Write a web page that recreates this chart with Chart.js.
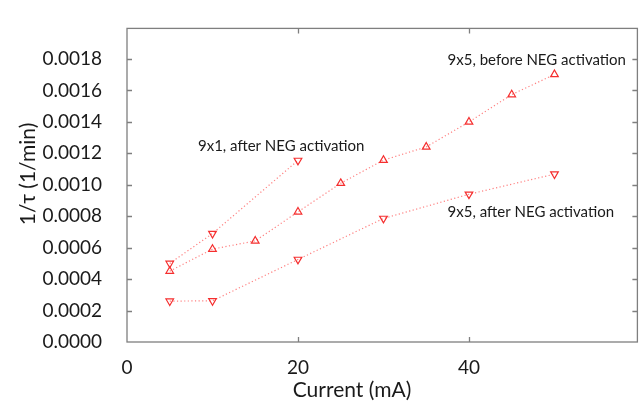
<!DOCTYPE html>
<html>
<head>
<meta charset="utf-8">
<script src="https://cdn.jsdelivr.net/npm/chart.js@4/dist/chart.umd.min.js"></script>
<style>
  html, body { margin: 0; padding: 0; background: #fff; overflow: hidden; }
  #wrap { width: 643px; height: 405px; }
</style>
</head>
<body>
<div id="wrap"><canvas id="chart"></canvas></div>
<script>
// Datos
const current9x1 = [5, 10, 20];
const after9x1 = [0.000500, 0.000690, 0.001155];

const current9x5Before = [5, 10, 15, 20, 25, 30, 35, 40, 45, 50];
const before9x5 = [0.000451, 0.000591, 0.000643, 0.000828, 0.001010, 0.001157, 0.001241, 0.001400, 0.001574, 0.001702];

const current9x5After = [5, 10, 20, 30, 40, 50];
const after9x5 = [0.000260, 0.000262, 0.000525, 0.000786, 0.000940, 0.001068];

const seriesNames = ["9x1, after NEG activation", "9x5, before NEG activation", "9x5, after NEG activation"];

const xTicks = [0, 20, 40];
const yTicks = [0, 0.0002, 0.0004, 0.0006, 0.0008, 0.0010, 0.0012, 0.0014, 0.0016, 0.0018];

const xTitle = "Current (mA)";
const yTitle = "1/\u03c4 (1/min)";

// Etiquetas dentro del gráfico (coordenadas de datos)
const notes = [
  { text: seriesNames[0], x: 8.3, y: 0.001243 },
  { text: seriesNames[1], x: 37.5, y: 0.00179 },
  { text: seriesNames[2], x: 37.5, y: 0.000828 },
];

const FONT = "Lato, 'Open Sans', sans-serif";
const markerRed = "#f52f2f";
const lineRed = "#ff8080";
const frameGray = "#7f7f7f";
const textColor = "#1a1a1a";

const toPoints = (xs, ys) => xs.map((x, i) => ({ x: x, y: ys[i] }));

function makeSet(label, data, rotation) {
  return {
    label: label,
    data: data,
    borderColor: lineRed,
    borderWidth: 1.2,
    borderDash: [1.2, 2.4],
    pointStyle: "triangle",
    pointRotation: rotation,
    pointRadius: 4.4,
    pointBorderWidth: 1.2,
    pointBorderColor: markerRed,
    pointBackgroundColor: "rgba(0,0,0,0)",
    fill: false,
    tension: 0,
    showLine: true,
  };
}

// Marco, marcas hacia dentro, títulos y notas
const framePlugin = {
  id: "frame",
  afterDraw(chart) {
    const ctx = chart.ctx;
    const a = chart.chartArea;
    const xs = chart.scales.x;
    const ys = chart.scales.y;
    ctx.save();
    ctx.strokeStyle = frameGray;
    ctx.lineWidth = 1.3;
    ctx.strokeRect(a.left, a.top, a.right - a.left, a.bottom - a.top);
    ctx.beginPath();
    ys.ticks.forEach((t) => {
      if (t.value <= 0) return;
      const py = Math.round(ys.getPixelForValue(t.value)) + 0.5;
      ctx.moveTo(a.left, py); ctx.lineTo(a.left + 5, py);
      ctx.moveTo(a.right, py); ctx.lineTo(a.right - 5, py);
    });
    xs.ticks.forEach((t) => {
      if (t.value <= 0) return;
      const px = Math.round(xs.getPixelForValue(t.value)) + 0.5;
      ctx.moveTo(px, a.bottom); ctx.lineTo(px, a.bottom - 5);
      ctx.moveTo(px, a.top); ctx.lineTo(px, a.top + 5);
    });
    ctx.stroke();

    ctx.fillStyle = textColor;
    ctx.font = "15px " + FONT;
    ctx.textBaseline = "middle";
    ctx.textAlign = "left";
    notes.forEach((n) => {
      ctx.fillText(n.text, xs.getPixelForValue(n.x), ys.getPixelForValue(n.y));
    });

    ctx.font = "21px " + FONT;
    ctx.textAlign = "center";
    ctx.fillText(xTitle, 352, 390);
    ctx.translate(28, 174);
    ctx.rotate(-Math.PI / 2);
    ctx.fillText(yTitle, 0, 0);
    ctx.restore();
  },
};

new Chart(document.getElementById("chart"), {
  type: "scatter",
  data: {
    datasets: [
      makeSet(seriesNames[0], toPoints(current9x1, after9x1), 180),
      makeSet(seriesNames[1], toPoints(current9x5Before, before9x5), 0),
      makeSet(seriesNames[2], toPoints(current9x5After, after9x5), 180),
    ],
  },
  options: {
    responsive: true,
    maintainAspectRatio: false,
    animation: false,
    layout: { padding: { top: 10, right: 0, left: 0, bottom: 0 } },
    plugins: { legend: { display: false }, tooltip: { enabled: false } },
    scales: {
      x: {
        type: "linear",
        min: 0,
        max: 59.7,
        grid: { display: false },
        border: { display: false },
        afterBuildTicks: (s) => { s.ticks = xTicks.map((v) => ({ value: v })); },
        ticks: {
          padding: 6,
          color: textColor,
          font: { family: FONT, size: 19 },
          maxRotation: 0,
          callback: (v) => String(v),
        },
        afterFit: (s) => { s.height = 63; },
      },
      y: {
        type: "linear",
        min: 0,
        max: 0.001995,
        grid: { display: false },
        border: { display: false },
        afterBuildTicks: (s) => { s.ticks = yTicks.map((v) => ({ value: v })); },
        ticks: {
          padding: 17,
          color: textColor,
          font: { family: FONT, size: 19 },
          callback: (v) => v.toFixed(4),
        },
        afterFit: (s) => { s.width = 127; },
      },
    },
  },
  plugins: [framePlugin],
});
</script>
</body>
</html>
